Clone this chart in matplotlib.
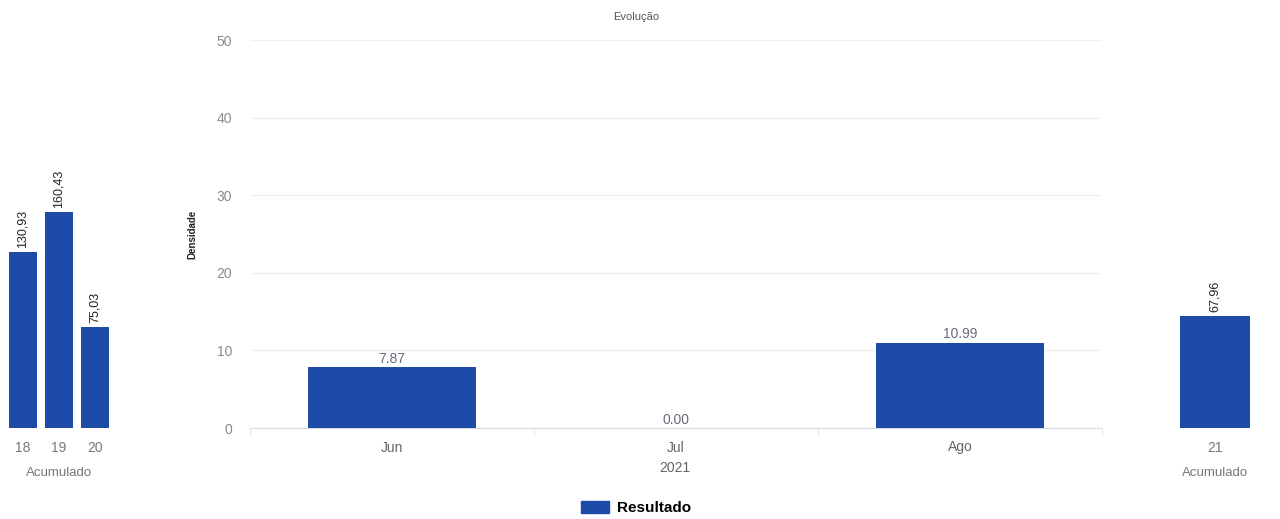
import matplotlib.pyplot as plt
from matplotlib.patches import Patch

plt.rcParams['font.family'] = ['Liberation Sans', 'DejaVu Sans']

# data
months = ['Jun', 'Jul', 'Ago']
month_vals = [7.87, 0.00, 10.99]
month_labels = ['7.87', '0.00', '10.99']

past_years = ['18', '19', '20']
past_vals = [130.93, 160.43, 75.03]
past_labels = ['130,93', '160,43', '75,03']

cur_year = ['21']
cur_vals = [67.96]
cur_labels = ['67,96']

blue = '#1e4ba8'
grey = '#8a8a8a'

fig = plt.figure(figsize=(12.8, 5.19), dpi=100)

# main chart
ax = fig.add_axes([250 / 1280, 1 - 428 / 519, 852 / 1280, 388 / 519])
bars = ax.bar(range(len(months)), month_vals, width=0.59, color=blue, zorder=3)
ax.set_xlim(-0.5, 2.5)
ax.set_ylim(0, 50)
ax.set_yticks([0, 10, 20, 30, 40, 50])
ax.tick_params(axis='y', length=0, labelsize=10, colors=grey, pad=13)
ax.set_xticks(range(len(months)))
ax.set_xticklabels(months)
ax.tick_params(axis='x', length=0, labelsize=10, colors='#666666', pad=9)
ax.set_xticks([-0.5, 0.5, 1.5, 2.5], minor=True)
ax.tick_params(axis='x', which='minor', length=5, color='#dddddd', direction='out')
ax.grid(axis='y', color='#f0f0f0', lw=1, zorder=0)
for s in ['top', 'right', 'left']:
    ax.spines[s].set_visible(False)
ax.spines['bottom'].set_color('#dddddd')
for b, lab in zip(bars, month_labels):
    ax.annotate(lab, (b.get_x() + b.get_width() / 2, b.get_height()),
                xytext=(0, 1), textcoords='offset points', ha='center', va='bottom',
                fontsize=10, color='#6a6a80')
ax.set_ylabel('Densidade', fontsize=7, color='#222222', fontweight='bold', labelpad=14)
fig.text(636 / 1280, 1 - 17 / 519, 'Evolução', ha='center', va='center', fontsize=8, color='#555555')
fig.text(675 / 1280, 1 - 468 / 519, '2021', ha='center', va='center', fontsize=10, color='#666666')

# accumulated, previous years
axl = fig.add_axes([5 / 1280, 1 - 428 / 519, 108 / 1280, 388 / 519])
lb = axl.bar(range(len(past_years)), past_vals, width=0.76, color=blue, zorder=3)
axl.set_xlim(-0.5, 2.5)
axl.set_ylim(0, 160.43 * 388 / 216)
axl.set_yticks([])
axl.set_xticks(range(len(past_years)))
axl.set_xticklabels(past_years)
axl.tick_params(axis='x', length=0, labelsize=10, colors='#777777', pad=9)
for s in ['top', 'right', 'left', 'bottom']:
    axl.spines[s].set_visible(False)
for b, lab in zip(lb, past_labels):
    axl.annotate(lab, (b.get_x() + b.get_width() / 2, b.get_height()),
                 xytext=(0, 3), textcoords='offset points', ha='center', va='bottom',
                 rotation=90, fontsize=9, color='#222222')
axl.set_xlabel('Acumulado', fontsize=9.5, color='#777777', labelpad=9)

# accumulated, current year
axr = fig.add_axes([1168 / 1280, 1 - 428 / 519, 94 / 1280, 388 / 519])
rb = axr.bar(range(len(cur_year)), cur_vals, width=0.75, color=blue, zorder=3)
axr.set_xlim(-0.5, 0.5)
axr.set_ylim(0, 67.96 * 388 / 112)
axr.set_yticks([])
axr.set_xticks(range(len(cur_year)))
axr.set_xticklabels(cur_year)
axr.tick_params(axis='x', length=0, labelsize=10, colors='#777777', pad=9)
for s in ['top', 'right', 'left', 'bottom']:
    axr.spines[s].set_visible(False)
for b, lab in zip(rb, cur_labels):
    axr.annotate(lab, (b.get_x() + b.get_width() / 2, b.get_height()),
                 xytext=(0, 3), textcoords='offset points', ha='center', va='bottom',
                 rotation=90, fontsize=9, color='#222222')
axr.set_xlabel('Acumulado', fontsize=9.5, color='#777777', labelpad=9)

fig.legend(handles=[Patch(color=blue, label='Resultado')], loc='center',
           bbox_to_anchor=(636 / 1280, 1 - 508 / 519), frameon=False,
           prop={'size': 11, 'weight': 'bold'}, handlelength=1.8, handleheight=0.9,
           handletextpad=0.5)

fig.savefig('out.png', dpi=100)
